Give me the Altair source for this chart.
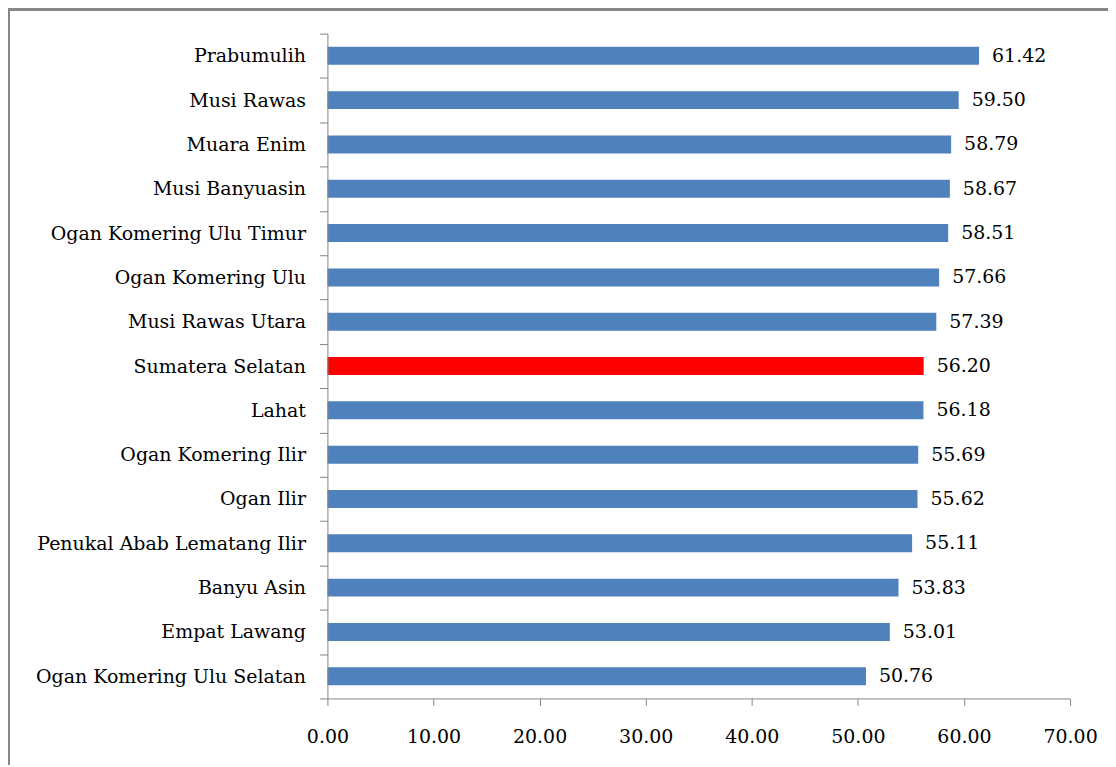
import altair as alt
import pandas as pd

regions = [
    "Prabumulih", "Musi Rawas", "Muara Enim", "Musi Banyuasin",
    "Ogan Komering Ulu Timur", "Ogan Komering Ulu", "Musi Rawas Utara",
    "Sumatera Selatan", "Lahat", "Ogan Komering Ilir", "Ogan Ilir",
    "Penukal Abab Lematang Ilir", "Banyu Asin", "Empat Lawang",
    "Ogan Komering Ulu Selatan",
]
values = [61.42, 59.50, 58.79, 58.67, 58.51, 57.66, 57.39, 56.20,
          56.18, 55.69, 55.62, 55.11, 53.83, 53.01, 50.76]
highlight = "Sumatera Selatan"

df = pd.DataFrame({"region": regions, "value": values})
df["kind"] = ["prov" if r == highlight else "kab" for r in regions]

FONT = "DejaVu Serif"
W, H = 744, 666
PAD_L, PAD_T, PAD_R, PAD_B = 320, 25, 38, 66
GRAY = "#868686"

y_enc = alt.Y("region:N", sort=regions, title=None,
              scale=alt.Scale(paddingInner=0, paddingOuter=0),
              axis=alt.Axis(tickBand="extent", tickSize=8, tickColor=GRAY,
                            domainColor=GRAY, labelFont=FONT, labelFontSize=19,
                            labelColor="black", labelPadding=14, labelLimit=400,
                            zindex=1))

bars = alt.Chart(df).mark_bar(size=18).encode(
    x=alt.X("value:Q", title=None,
            scale=alt.Scale(domain=[0, 70], nice=False),
            axis=alt.Axis(values=[0, 10, 20, 30, 40, 50, 60, 70], format=".2f",
                          grid=False, tickSize=7, tickColor=GRAY, domainColor=GRAY,
                          labelFont=FONT, labelFontSize=19, labelColor="black",
                          labelPadding=22, labelFlush=False)),
    y=y_enc,
    color=alt.Color("kind:N", scale=alt.Scale(domain=["kab", "prov"],
                                              range=["#4F81BD", "#FF0000"]),
                    legend=None),
)

labels = alt.Chart(df).mark_text(align="left", baseline="middle", dx=13,
                                 font=FONT, fontSize=19, color="black").encode(
    x="value:Q",
    y=alt.Y("region:N", sort=regions),
    text=alt.Text("value:Q", format=".2f"),
)

frame = alt.Chart(df).mark_rect(filled=False, stroke=GRAY, strokeWidth=2,
                                clip=False).encode(
    x=alt.value(-PAD_L + 1), x2=alt.value(W + PAD_R + 40),
    y=alt.value(-PAD_T + 1), y2=alt.value(H + PAD_B + 40),
)

chart = alt.layer(frame, bars, labels).properties(
    width=W, height=H,
    background="white",
    autosize=alt.AutoSizeParams(type="none"),
    padding={"left": PAD_L, "top": PAD_T, "right": PAD_R, "bottom": PAD_B},
).configure_view(stroke="transparent", strokeWidth=0)

chart.save("out.html", embed_options={"renderer": "svg", "actions": False})
